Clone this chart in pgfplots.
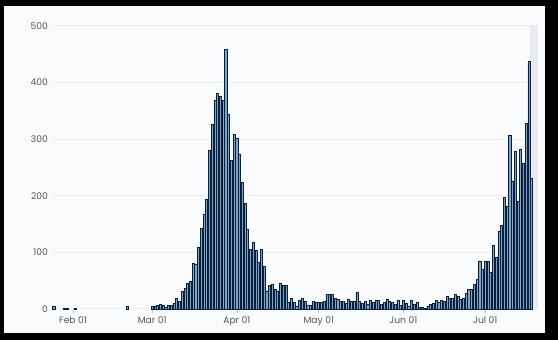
\documentclass[border=0pt]{standalone}
\usepackage{pgfplots}
\pgfplotsset{compat=1.18}
\usepackage{pgfplotstable}
\usepackage{fontspec}
\setmainfont{Poppins}
\definecolor{bgc}{HTML}{FAFBFC}
\definecolor{gridc}{HTML}{EAECEF}
\definecolor{labc}{HTML}{555555}
\definecolor{barfill}{HTML}{7FA3C6}
\definecolor{bardraw}{HTML}{0A1F3C}
\definecolor{hl}{HTML}{E9EAF2}
\pgfplotstableread{
d v
24 4
28 1
29 1
32 1
51 4
60 5
61 4
62 6
63 8
64 7
65 3
66 7
67 7
68 10
69 19
70 14
71 32
72 37
73 46
74 49
75 80
76 78
77 108
78 143
79 168
80 193
81 281
82 327
83 369
84 381
85 375
86 369
87 459
88 344
89 263
90 309
91 302
92 274
93 224
94 187
95 140
96 106
97 118
98 104
99 83
100 106
101 76
102 32
103 42
104 44
105 34
106 32
107 46
108 41
109 41
110 11
111 18
112 11
113 5
114 16
115 19
116 14
117 7
118 7
119 14
120 11
121 12
122 12
123 14
124 25
125 25
126 25
127 18
128 17
129 14
130 13
131 10
132 17
133 13
134 14
135 30
136 14
137 10
138 13
139 9
140 16
141 12
142 16
143 15
144 8
145 11
146 17
147 14
148 11
149 9
150 16
151 6
152 15
153 10
154 5
155 16
156 9
157 12
158 2
159 2
160 1
161 5
162 8
163 10
164 15
165 12
166 16
167 13
168 22
169 19
170 19
171 25
172 23
173 17
174 19
175 28
176 35
177 35
178 44
179 52
180 84
181 70
182 85
183 84
184 64
185 113
186 92
187 138
188 147
189 197
190 181
191 306
192 225
193 278
194 190
195 282
196 258
197 328
198 437
199 231
}\cases
\begin{document}
\begin{tikzpicture}[x=1pt,y=1pt]
\fill[black] (0,0) rectangle (558,340);
\fill[bgc] (4,7) rectangle (545,334);
\begin{axis}[
  at={(53pt,31pt)}, anchor=south west,
  scale only axis, width=485pt, height=283pt,
  xmin=23.67, xmax=201.3, ymin=0, ymax=500,
  axis line style={draw=none},
  xtick={31,60,91,121,152,182},
  xticklabels={Feb 01,Mar 01,Apr 01,May 01,Jun 01,Jul 01},
  ytick={0,100,200,300,400,500},
  ymajorgrids, grid style={color=gridc, line width=1pt},
  xtick pos=bottom, ytick pos=left,
  xtick align=outside, major tick length=4pt,
  xtick style={color=gridc!60!gray, line width=0.5pt},
  ytick style={draw=none},
  tick label style={font=\fontsize{9.2}{10}\selectfont, text=labc},
  /pgf/number format/assume math mode=true,
  yticklabel style={xshift=-1.5pt},
  xticklabel style={yshift=-0.5pt},
  clip=false,
]
\fill[hl] (axis cs:198.2,0) rectangle (axis cs:201.3,500);
\addplot[ybar, bar width=2.1pt, fill=barfill, draw=bardraw, line width=0.75pt] table[x=d,y=v] {\cases};
\end{axis}
\end{tikzpicture}
\end{document}
